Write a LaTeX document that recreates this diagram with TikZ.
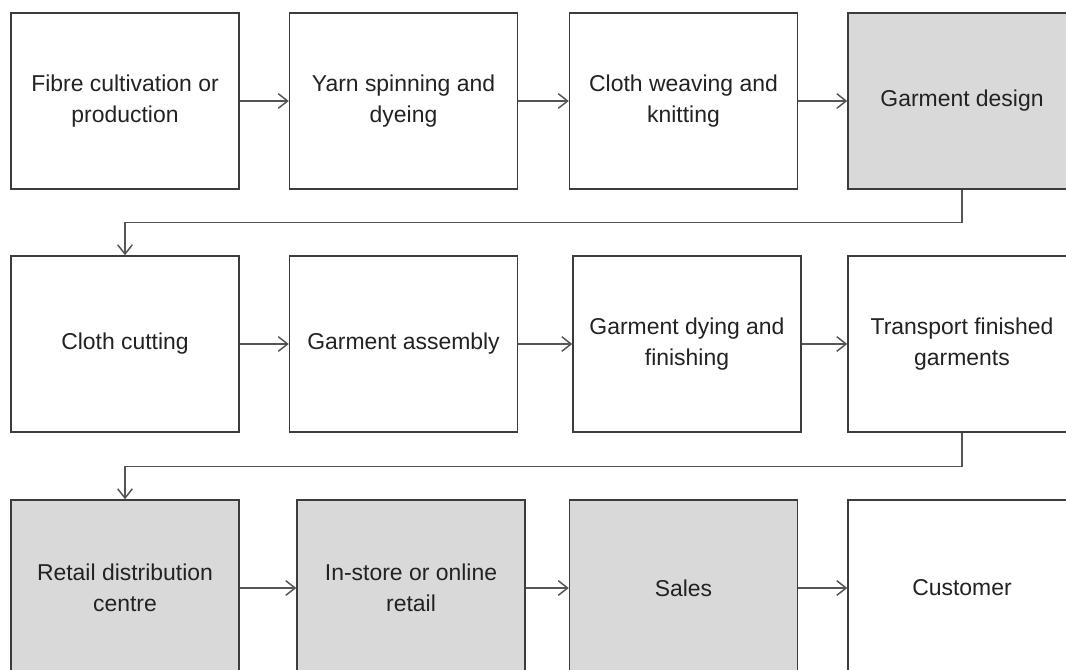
\documentclass[tikz,border=0pt]{standalone}
\usepackage{fontspec}
\setmainfont{Liberation Sans}
\usetikzlibrary{arrows.meta}
\definecolor{boxline}{HTML}{3C3C3C}
\definecolor{conncol}{HTML}{555555}
\definecolor{boxgray}{HTML}{D9D9D9}
\definecolor{txt}{HTML}{222222}
\tikzset{
  stepbox/.style={draw=boxline, line width=1.1pt, fill=white, minimum width=171pt, minimum height=132pt,
    inner sep=0pt, align=center, text=txt, font=\fontsize{17.2pt}{23.2pt}\selectfont},
  graybox/.style={stepbox, fill=boxgray},
  conn/.style={draw=conncol, line width=1.1pt, -{Straight Barb[length=7pt,width=11pt,line width=1.1pt]}}
}
\begin{document}
\begin{tikzpicture}[x=0.75pt,y=-0.75pt]
\useasboundingbox (0,0) rectangle (1066,669);
\clip (0,0) rectangle (1066,669);
\fill[white] (0,0) rectangle (1066,669);
% row 1
\node[stepbox] (a1) at (125,101) {Fibre cultivation or\\production};
\node[stepbox] (a2) at (403.5,101) {Yarn spinning and\\dyeing};
\node[stepbox] (a3) at (683.5,101) {Cloth weaving and\\knitting};
\node[graybox] (a4) at (962,101) {Garment design};
% row 2
\node[stepbox] (b1) at (125,344) {Cloth cutting};
\node[stepbox] (b2) at (403.5,344) {Garment assembly};
\node[stepbox] (b3) at (687,344) {Garment dying and\\finishing};
\node[stepbox] (b4) at (962,344) {Transport finished\\garments};
% row 3
\node[graybox] (c1) at (125,588) {Retail distribution\\centre};
\node[graybox] (c2) at (411,588) {In-store or online\\retail};
\node[graybox] (c3) at (683.5,588) {Sales};
\node[stepbox] (c4) at (962,588) {Customer};
% connectors
\draw[conn] (a1) -- (a2);
\draw[conn] (a2) -- (a3);
\draw[conn] (a3) -- (a4);
\draw[conn] (a4.south) -- ++(0,33) -| (b1.north);
\draw[conn] (b1) -- (b2);
\draw[conn] (b2) -- (b3);
\draw[conn] (b3) -- (b4);
\draw[conn] (b4.south) -- ++(0,34) -| (c1.north);
\draw[conn] (c1) -- (c2);
\draw[conn] (c2) -- (c3);
\draw[conn] (c3) -- (c4);
\end{tikzpicture}
\end{document}
